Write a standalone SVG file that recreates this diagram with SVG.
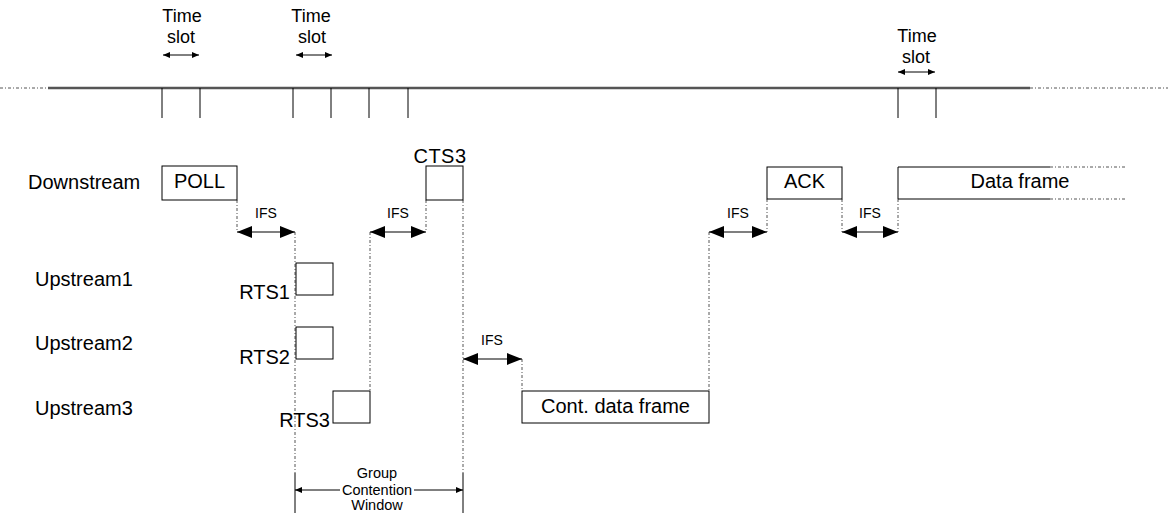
<svg xmlns="http://www.w3.org/2000/svg" width="1173" height="513" viewBox="0 0 1173 513">
<style>
text{font-family:"Liberation Sans",Arial,sans-serif;fill:#000}
.lbl{font-size:20px}
.ts{font-size:18px;text-anchor:middle}
.ifs{font-size:14px;text-anchor:middle}
.gcw{font-size:14.5px;text-anchor:middle}
.box{fill:#fff;stroke:#000;stroke-width:1}
.solid{stroke:#000;stroke-width:1;fill:none}
.tl{stroke:#555;stroke-width:2.5;fill:none}
.dot{stroke:#555;stroke-width:1;stroke-dasharray:3 2 1 2;fill:none}
.ifsarrow{stroke:#000;stroke-width:1.2;marker-start:url(#big);marker-end:url(#big)}
.tsarrow{stroke:#000;stroke-width:1;marker-start:url(#small);marker-end:url(#small)}
</style>
<defs>
<marker id="big" viewBox="0 0 15 12" refX="15" refY="6" markerWidth="15" markerHeight="12" markerUnits="userSpaceOnUse" orient="auto-start-reverse"><path d="M0,0 L15,6 L0,12 z" fill="#000"/></marker>
<marker id="small" viewBox="0 0 7 6" refX="7" refY="3" markerWidth="7" markerHeight="6" markerUnits="userSpaceOnUse" orient="auto-start-reverse"><path d="M0,0 L7,3 L0,6 z" fill="#000"/></marker>
</defs>
<rect width="1173" height="513" fill="#fff"/>

<g id="timeline">
<line class="dot" x1="0" y1="88" x2="48" y2="88"/>
<line class="tl" x1="48" y1="88" x2="1030" y2="88"/>
<line class="dot" x1="1030" y1="88" x2="1168" y2="88"/>
<g class="solid">
<line x1="162" y1="88" x2="162" y2="118"/>
<line x1="200" y1="88" x2="200" y2="118"/>
<line x1="293" y1="88" x2="293" y2="118"/>
<line x1="331" y1="88" x2="331" y2="118"/>
<line x1="369" y1="88" x2="369" y2="118"/>
<line x1="408" y1="88" x2="408" y2="118"/>
<line x1="898" y1="88" x2="898" y2="118"/>
<line x1="936" y1="88" x2="936" y2="118"/>
</g>
</g>

<g id="timeslot1">
<text class="ts" x="182" y="22">Time</text>
<text class="ts" x="181" y="43">slot</text>
<line class="tsarrow" x1="163" y1="55" x2="199" y2="55"/>
</g>
<g id="timeslot2">
<text class="ts" x="311" y="22">Time</text>
<text class="ts" x="312" y="43">slot</text>
<line class="tsarrow" x1="296" y1="55" x2="332" y2="55"/>
</g>
<g id="timeslot3">
<text class="ts" x="917" y="42">Time</text>
<text class="ts" x="916" y="63">slot</text>
<line class="tsarrow" x1="898" y1="72" x2="935" y2="72"/>
</g>

<g id="row-labels">
<text class="lbl" x="28" y="189">Downstream</text>
<text class="lbl" x="35" y="286">Upstream1</text>
<text class="lbl" x="35" y="350">Upstream2</text>
<text class="lbl" x="35" y="415">Upstream3</text>
</g>

<g id="connectors">
<line class="dot" x1="237" y1="200" x2="237" y2="232"/>
<line class="dot" x1="295" y1="232" x2="295" y2="473"/>
<line class="dot" x1="370" y1="232" x2="370" y2="391"/>
<line class="dot" x1="426" y1="200" x2="426" y2="232"/>
<line class="dot" x1="463" y1="200" x2="463" y2="473"/>
<line class="dot" x1="522" y1="359" x2="522" y2="391"/>
<line class="dot" x1="709" y1="232" x2="709" y2="391"/>
<line class="dot" x1="767" y1="199" x2="767" y2="232"/>
<line class="dot" x1="842" y1="199" x2="842" y2="232"/>
<line class="dot" x1="898" y1="199" x2="898" y2="232"/>

<line class="ifsarrow" x1="237" y1="232" x2="295" y2="232"/>
<line class="ifsarrow" x1="370" y1="232" x2="426" y2="232"/>
<line class="ifsarrow" x1="463" y1="359" x2="522" y2="359"/>
<line class="ifsarrow" x1="709" y1="232" x2="767" y2="232"/>
<line class="ifsarrow" x1="842" y1="232" x2="898" y2="232"/>
<text class="ifs" x="266" y="218">IFS</text>
<text class="ifs" x="398" y="218">IFS</text>
<text class="ifs" x="492" y="345">IFS</text>
<text class="ifs" x="738" y="218">IFS</text>
<text class="ifs" x="870" y="218">IFS</text>
</g>

<g id="poll">
<rect class="box" x="162" y="166" width="75" height="34"/>
<text class="lbl" x="199.5" y="188" text-anchor="middle">POLL</text>
</g>
<g id="cts3">
<rect class="box" x="426" y="166" width="37" height="34"/>
<text class="lbl" x="440" y="163" text-anchor="middle" letter-spacing="0.5">CTS3</text>
</g>
<g id="ack">
<rect class="box" x="767" y="167" width="75" height="32"/>
<text class="lbl" x="804.5" y="188" text-anchor="middle">ACK</text>
</g>
<g id="dataframe">
<line class="solid" x1="898" y1="167" x2="898" y2="199"/>
<line class="solid" x1="898" y1="167" x2="1050" y2="167"/>
<line class="solid" x1="898" y1="199" x2="1050" y2="199"/>
<line class="dot" x1="1050" y1="167" x2="1126" y2="167"/>
<line class="dot" x1="1050" y1="199" x2="1126" y2="199"/>
<text class="lbl" x="1020" y="188" text-anchor="middle">Data frame</text>
</g>
<g id="rts1">
<rect class="box" x="296" y="263" width="37" height="32"/>
<text class="lbl" x="290" y="299" text-anchor="end">RTS1</text>
</g>
<g id="rts2">
<rect class="box" x="296" y="327" width="37" height="32"/>
<text class="lbl" x="290" y="364" text-anchor="end">RTS2</text>
</g>
<g id="rts3">
<rect class="box" x="333" y="391" width="37" height="32"/>
<text class="lbl" x="330" y="427" text-anchor="end">RTS3</text>
</g>
<g id="contdata">
<rect class="box" x="522" y="391" width="187" height="32"/>
<text class="lbl" x="615.5" y="413" text-anchor="middle">Cont. data frame</text>
</g>

<g id="group-contention-window">
<line class="solid" x1="295" y1="473" x2="295" y2="513"/>
<line class="solid" x1="463" y1="473" x2="463" y2="513"/>
<line class="solid" x1="295" y1="490" x2="340" y2="490" marker-start="url(#small)"/>
<line class="solid" x1="414" y1="490" x2="463" y2="490" marker-end="url(#small)"/>
<text class="gcw" x="377" y="478">Group</text>
<text class="gcw" x="377" y="495">Contention</text>
<text class="gcw" x="377" y="510">Window</text>
</g>
</svg>
